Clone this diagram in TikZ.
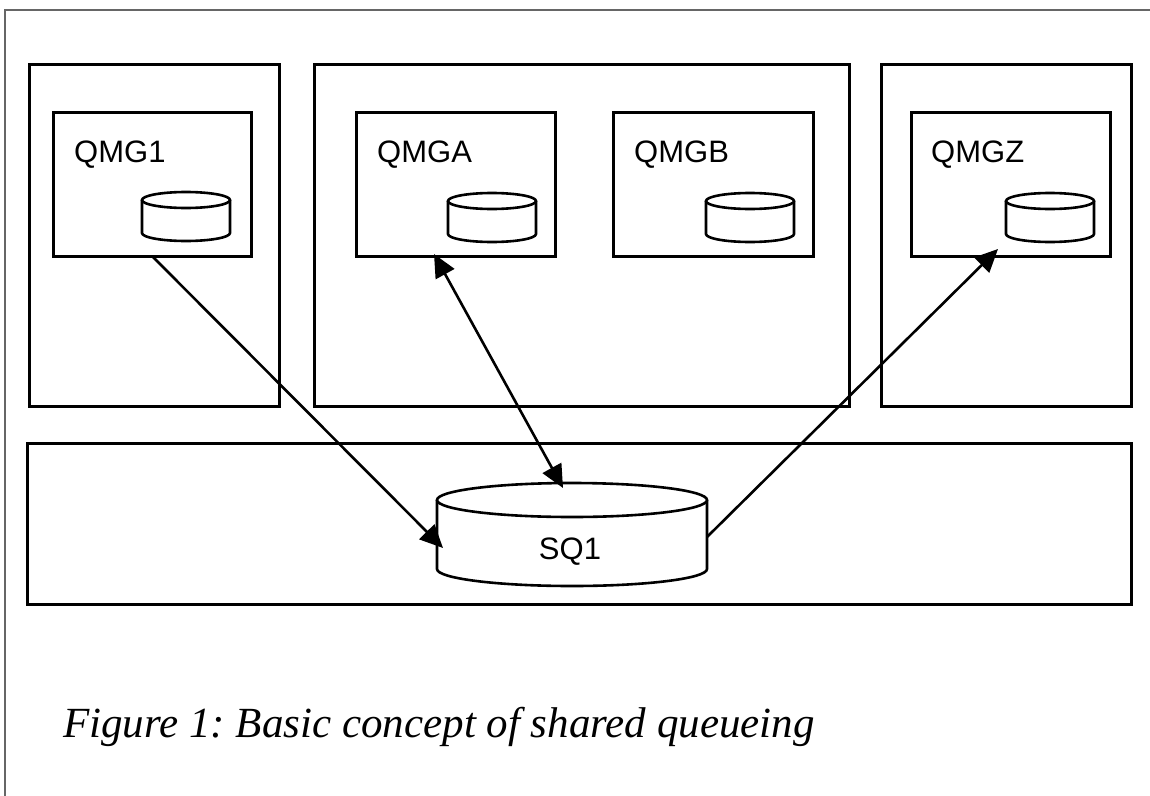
\documentclass[tikz,border=0pt]{standalone}
\usepackage{fontspec}
\setmainfont{Liberation Serif}
\newfontfamily\arialfont{Liberation Sans}
\usetikzlibrary{arrows.meta}
\frenchspacing
\tikzset{
  hostbox/.style={draw=black, line width=3.2pt, inner sep=0pt, anchor=north west},
  qmbox/.style={draw=black, line width=3.2pt, inner sep=0pt, anchor=north west},
  qmlabel/.style={anchor=base west, inner sep=0pt, font=\arialfont\fontsize{31}{37}\selectfont},
  cyl/.style={draw=black, line width=2.6pt},
  conn/.style={draw=black, line width=2.6pt},
  tip/.style={-{Triangle[length=23pt,width=21pt]}},
  dtip/.style={{Triangle[length=23pt,width=21pt]}-{Triangle[length=23pt,width=21pt]}},
}
% \drawcyl{cx}{top}{bottom}{rx}{ry}
\newcommand{\drawcyl}[5]{%
  \draw[cyl] ({#1-#4},#2) -- ({#1-#4},#3)
     arc[start angle=180, end angle=0, x radius=#4, y radius=#5] -- ({#1+#4},#2);
  \draw[cyl, fill=white] (#1,#2) ellipse[x radius=#4, y radius=#5];
}
\begin{document}
\begin{tikzpicture}[x=1pt,y=-1pt]
\useasboundingbox (0,0) rectangle (1150,795);
\fill[white] (0,0) rectangle (1150,795);
% outer frame (cut off at right and bottom)
\draw[black!60, line width=1.2pt] (5,810) -- (5,10) -- (1165,10);

% host boxes
\node[hostbox, minimum width=250pt, minimum height=342pt] (host1) at (28,63) {};
\node[hostbox, minimum width=535pt, minimum height=342pt] (host2) at (313,63) {};
\node[hostbox, minimum width=250pt, minimum height=342pt] (host3) at (880,63) {};
\node[hostbox, minimum width=1104pt, minimum height=161pt] (cf) at (26,442) {};

% queue manager boxes
\node[qmbox, minimum width=198pt, minimum height=144pt] (qmg1) at (52,111) {};
\node[qmbox, minimum width=199pt, minimum height=144pt] (qmga) at (355,111) {};
\node[qmbox, minimum width=200pt, minimum height=144pt] (qmgb) at (612,111) {};
\node[qmbox, minimum width=199pt, minimum height=144pt] (qmgz) at (910,111) {};

\node[qmlabel] (l1) at (74,162) {QMG1};
\node[qmlabel] (la) at (377,162) {QMGA};
\node[qmlabel] (lb) at (634,162) {QMGB};
\node[qmlabel] (lz) at (931,162) {QMGZ};

% local queues
\drawcyl{186}{200}{233}{44}{8}
\drawcyl{492}{201}{234}{44}{8}
\drawcyl{750}{201}{234}{44}{8}
\drawcyl{1050}{201}{234}{44}{8}

% shared queue
\drawcyl{572}{500}{569}{135}{17}
\node[anchor=base, inner sep=0pt, font=\arialfont\fontsize{31}{37}\selectfont] (sq1) at (570,559) {SQ1};

% connector end points
\coordinate (a1s) at (152,256);
\coordinate (a1e) at (443,548);
\coordinate (a2s) at (434,254);
\coordinate (a2e) at (563,488);
\coordinate (a3s) at (707,537);
\coordinate (a3e) at (998,249);

\draw[conn, tip] (a1s) -- (a1e);
\draw[conn, dtip] (a2s) -- (a2e);
\draw[conn, tip] (a3s) -- (a3e);

% caption
\node[anchor=base west, inner sep=0pt, font=\itshape\fontsize{43}{50}\selectfont] (cap) at (63,737) {Figure 1: Basic concept of shared queueing};
\end{tikzpicture}
\end{document}
